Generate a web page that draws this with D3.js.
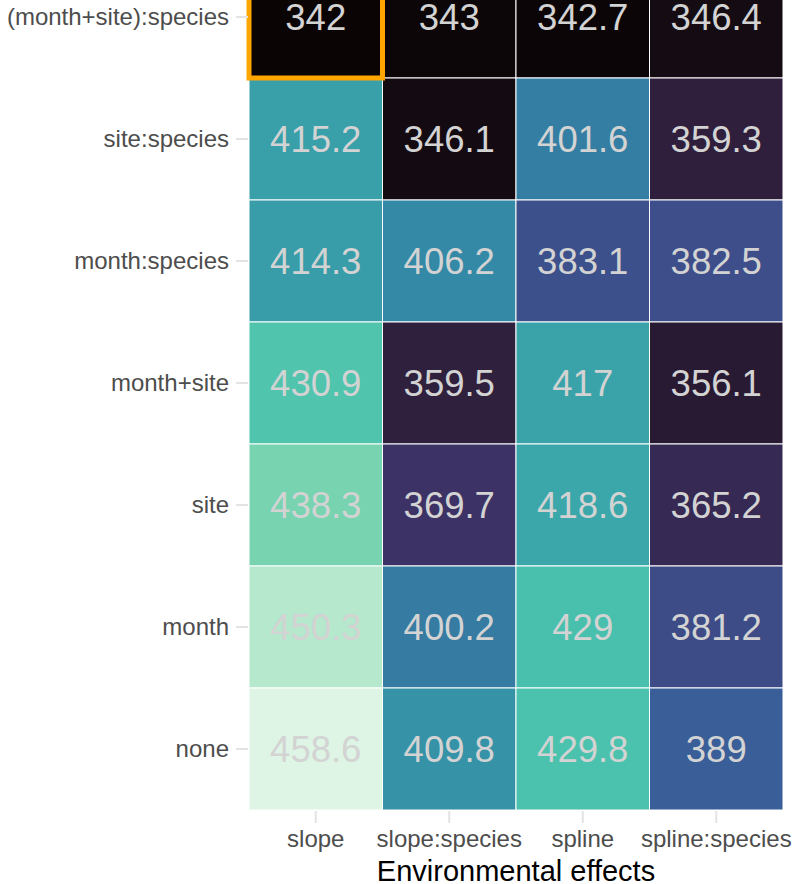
<!DOCTYPE html>
<html>
<head>
<meta charset="utf-8">
<script src="https://cdn.jsdelivr.net/npm/d3@7"></script>
<style>
  body { margin: 0; background: #fff; }
  svg { display: block; font-family: "Liberation Sans", Arial, sans-serif; }
</style>
</head>
<body>
<svg id="chart" width="793" height="884"></svg>
<script>
// rows top to bottom, columns left to right
const rowLabels = ["(month+site):species", "site:species", "month:species", "month+site", "site", "month", "none"];
const colLabels = ["slope", "slope:species", "spline", "spline:species"];
const slopeVals = [342, 415.2, 414.3, 430.9, 438.3, 450.3, 458.6];
const slopeSpeciesVals = [343, 346.1, 406.2, 359.5, 369.7, 400.2, 409.8];
const splineVals = [342.7, 401.6, 383.1, 417, 418.6, 429, 429.8];
const splineSpeciesVals = [346.4, 359.3, 382.5, 356.1, 365.2, 381.2, 389];

// mako palette stops
const makoStops = [0, 0.143, 0.25, 0.286, 0.429, 0.5, 0.571, 0.714, 0.75, 0.857, 1];
const makoColors = ["#0B0405", "#2E1E3B", "#3E356B", "#413D7B", "#37659E", "#357BA2", "#348FA7", "#40B7AD", "#49C1AD", "#8BDAB2", "#DEF5E5"];

const columns = [slopeVals, slopeSpeciesVals, splineVals, splineSpeciesVals];
const cells = [];
columns.forEach((vals, ci) => {
    vals.forEach((v, ri) => cells.push({ row: rowLabels[ri], col: colLabels[ci], value: v }));
});

const margin = { top: -44, left: 249 };
const width = 534, height = 854;

const svg = d3.select("#chart");
const g = svg.append("g").attr("transform", `translate(${margin.left}, ${margin.top})`);

const x = d3.scaleBand().domain(colLabels).range([0, width]).padding(0);
const y = d3.scaleBand().domain(rowLabels).range([0, height]).padding(0);

const vMin = d3.min(cells, d => d.value), vMax = d3.max(cells, d => d.value);
const t = d3.scaleLinear().domain([vMin, vMax]).range([0, 1]);
const mako = d3.scaleLinear().domain(makoStops).range(makoColors).interpolate(d3.interpolateRgb);
const color = v => mako(t(v));

// tiles
g.selectAll(".tile")
    .data(cells)
    .enter()
    .append("rect")
    .attr("class", "tile")
    .attr("x", d => x(d.col))
    .attr("y", d => y(d.row))
    .attr("width", x.bandwidth())
    .attr("height", y.bandwidth())
    .attr("fill", d => color(d.value))
    .attr("stroke", "#fff")
    .attr("stroke-width", 1);

// values
g.selectAll(".val")
    .data(cells)
    .enter()
    .append("text")
    .attr("class", "val")
    .attr("x", d => x(d.col) + x.bandwidth() / 2)
    .attr("y", d => y(d.row) + y.bandwidth() / 2)
    .attr("dy", "0.36em")
    .attr("text-anchor", "middle")
    .style("font-size", "36.5px")
    .style("fill", "#d3d3d3")
    .text(d => d.value);

// highlight the best (lowest) cell
const best = cells.reduce((a, b) => (b.value < a.value ? b : a));
g.append("rect")
    .attr("x", x(best.col))
    .attr("y", y(best.row))
    .attr("width", x.bandwidth())
    .attr("height", y.bandwidth())
    .attr("fill", "none")
    .attr("stroke", "#FFA500")
    .attr("stroke-width", 5);

// axes
const xAxis = g.append("g")
    .attr("transform", `translate(0, ${height})`)
    .call(d3.axisBottom(x).tickSize(12).tickPadding(8));
const yAxis = g.append("g")
    .call(d3.axisLeft(y).tickSize(12).tickPadding(8));

[xAxis, yAxis].forEach(ax => {
    ax.select(".domain").remove();
    ax.selectAll(".tick line").attr("stroke", "#e3e3e3").attr("stroke-width", 2);
    ax.selectAll(".tick text")
        .style("font-size", "24px")
        .style("fill", "#4d4d4d")
        .style("font-family", "\"Liberation Sans\", Arial, sans-serif");
});
xAxis.selectAll(".tick line").attr("y1", 1).attr("y2", 13);
yAxis.selectAll(".tick line").attr("x1", -1).attr("x2", -13);

// axis title
g.append("text")
    .attr("x", width / 2)
    .attr("y", height + 71)
    .attr("text-anchor", "middle")
    .style("font-size", "29px")
    .style("fill", "#000")
    .text("Environmental effects");
</script>
</body>
</html>
